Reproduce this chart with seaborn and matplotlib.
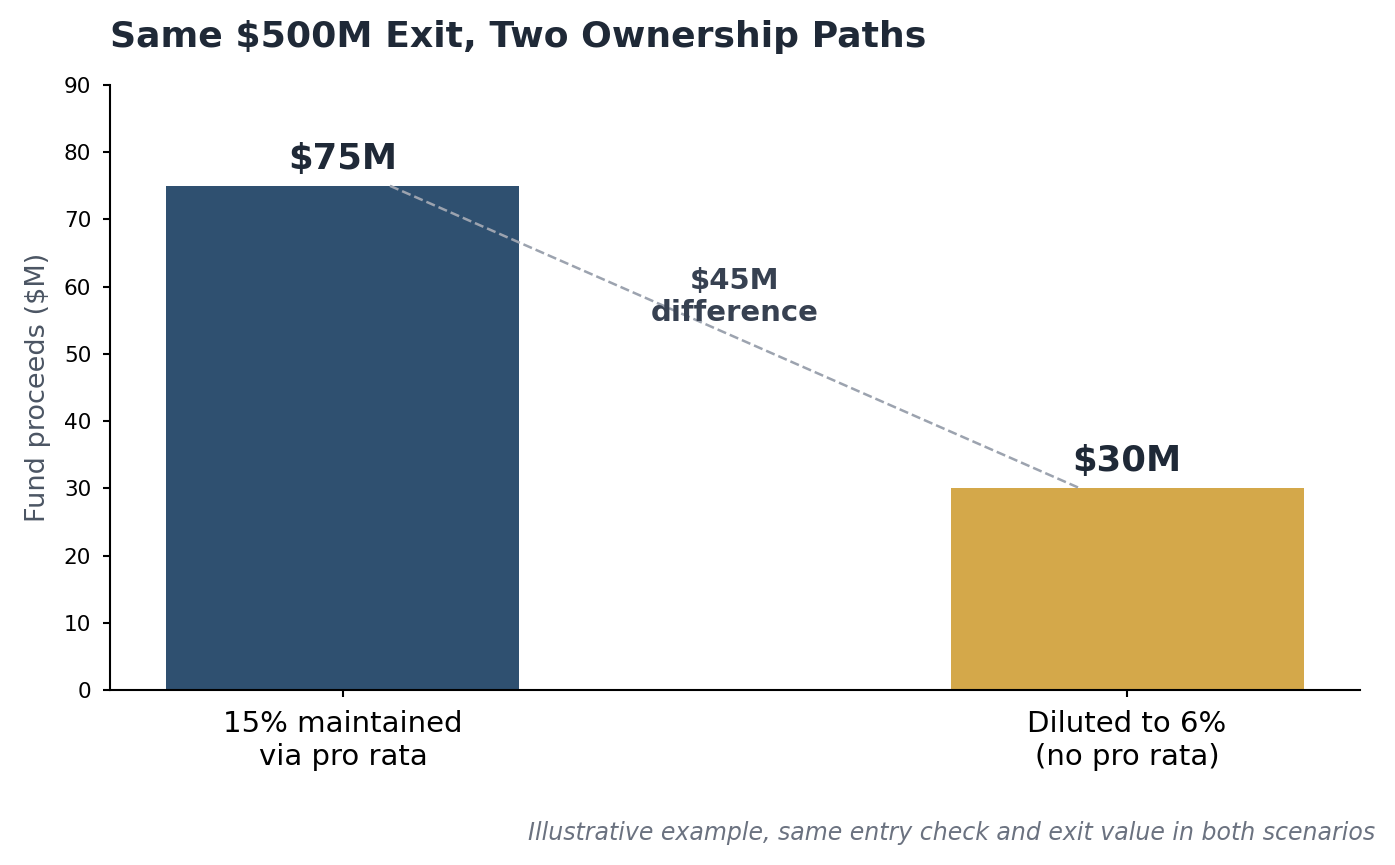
import matplotlib
matplotlib.use("Agg")
import matplotlib.pyplot as plt
import seaborn as sns
import pandas as pd

# ---- data ----
categories = ["15% maintained\nvia pro rata", "Diluted to 6%\n(no pro rata)"]
values = [75, 30]
value_labels = ["$75M", "$30M"]
bar_colors = ["#2f5070", "#d4a84a"]
diff_label = "$45M\ndifference"
title = "Same $500M Exit, Two Ownership Paths"
ylabel = "Fund proceeds ($M)"
footnote = "Illustrative example, same entry check and exit value in both scenarios"
yticks = [0, 10, 20, 30, 40, 50, 60, 70, 80, 90]

sns.set_style("ticks")
plt.rcParams["font.family"] = ["DejaVu Sans"]
plt.rcParams["xtick.color"] = "black"
plt.rcParams["ytick.color"] = "black"
plt.rcParams["xtick.labelcolor"] = "black"
plt.rcParams["ytick.labelcolor"] = "black"

df = pd.DataFrame({"category": categories, "value": values})

fig = plt.figure(figsize=(9.3, 865 / 150), dpi=150)
ax = fig.add_axes([110 / 1395, 1 - 690 / 865, (1360 - 110) / 1395, (690 - 85) / 865])

sns.barplot(data=df, x="category", y="value", hue="category",
            palette=bar_colors, width=0.45, legend=False, ax=ax,
            saturation=1, linewidth=0, edgecolor="none")

ax.set_xlim(-0.297, 1.297)
ax.set_ylim(0, 90)
ax.set_yticks(yticks)
ax.tick_params(axis="x", labelsize=14, length=3.5, width=1.0, pad=6,
               colors="black")
ax.tick_params(axis="y", labelsize=10.4, length=3.5, width=1.0, pad=5.5,
               colors="black")
for t in ax.get_xticklabels():
    t.set_linespacing(1.25)
ax.set_xlabel("")
ax.set_ylabel(ylabel, fontsize=13, color="#4b5563", labelpad=6)
sns.despine(ax=ax)
for s in ["left", "bottom"]:
    ax.spines[s].set_color("black")
    ax.spines[s].set_linewidth(1.0)

for i, (v, lab) in enumerate(zip(values, value_labels)):
    ax.text(i, v + 1.5, lab, ha="center", va="bottom", fontsize=17,
            fontweight="bold", color="#1f2937")

# connector line between bar tops
ax.plot([0.06, 0.94], [values[0], values[1]], linestyle="--",
        color="#9ca3af", linewidth=1.2, zorder=3)
ax.text(0.5, 58.5, diff_label, ha="center", va="center", fontsize=14,
        fontweight="bold", color="#374151", zorder=4)

ax.set_title(title, loc="left", fontsize=17.4, fontweight="bold",
             color="#1f2937", pad=18)

fig.text(1375 / 1395, 1 - 840 / 865, footnote, ha="right", va="baseline",
         fontsize=11.35, style="italic", color="#6b7280")

fig.savefig("out.png", dpi=150)
